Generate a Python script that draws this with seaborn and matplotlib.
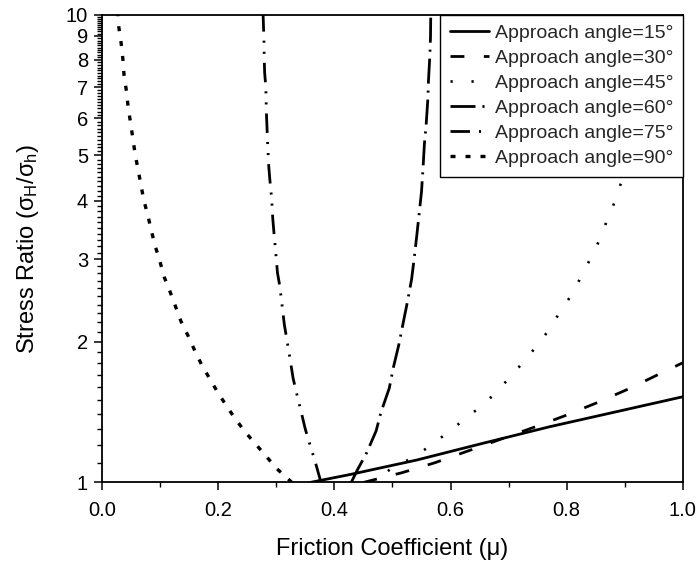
import matplotlib
matplotlib.use("Agg")
import matplotlib.pyplot as plt
import seaborn as sns

# ---- data ----
mu_15 = [0.358, 0.427, 0.542, 0.656, 0.771, 0.886, 1.0]
ratio_15 = [1.0, 1.04, 1.117, 1.213, 1.316, 1.417, 1.525]

mu_30 = [0.450, 0.466, 0.516, 0.573, 0.631, 0.686, 0.742, 0.797, 0.854, 0.909, 0.963, 1.0]
ratio_30 = [1.0, 1.012, 1.049, 1.102, 1.169, 1.237, 1.31, 1.389, 1.484, 1.59, 1.714, 1.803]

mu_45 = [0.462, 0.473, 0.501, 0.533, 0.563, 0.592, 0.619, 0.648, 0.674, 0.698, 0.722,
         0.745, 0.768, 0.787, 0.808, 0.824, 0.841, 0.857, 0.870, 0.884, 0.895,
         0.904, 0.912, 0.920, 0.927, 0.933, 0.939, 0.944, 0.948, 0.950]
ratio_45 = [1.0, 1.016, 1.078, 1.126, 1.193, 1.27, 1.349, 1.44, 1.538, 1.656, 1.789,
            1.935, 2.107, 2.299, 2.515, 2.739, 3.013, 3.309, 3.651, 4.015, 4.43,
            4.89, 5.40, 5.95, 6.57, 7.24, 8.0, 8.82, 9.73, 10.3]

mu_60 = [0.429, 0.439, 0.456, 0.472, 0.480, 0.4945, 0.502, 0.511, 0.519, 0.526, 0.533,
         0.5375, 0.542, 0.546, 0.550, 0.5525, 0.555, 0.558, 0.561, 0.562, 0.5645, 0.5655, 0.566]
ratio_60 = [1.0, 1.06, 1.16, 1.29, 1.41, 1.59, 1.77, 1.97, 2.21, 2.44, 2.72,
            3.02, 3.38, 3.76, 4.18, 4.67, 5.29, 5.81, 6.62, 7.22, 8.23, 8.97, 10.2]

mu_75 = [0.377, 0.367, 0.357, 0.350, 0.342, 0.334, 0.329, 0.323, 0.318, 0.314, 0.310,
         0.306, 0.302, 0.299, 0.296, 0.294, 0.292, 0.289, 0.287, 0.285, 0.284,
         0.283, 0.282, 0.280, 0.2793, 0.2788, 0.2776, 0.2772]
ratio_75 = [1.0, 1.108, 1.216, 1.30, 1.43, 1.57, 1.67, 1.86, 2.03, 2.17, 2.39,
            2.63, 2.81, 3.11, 3.42, 3.66, 4.05, 4.43, 4.75, 5.35, 5.76,
            6.17, 7.01, 7.51, 8.02, 8.82, 9.77, 10.2]

mu_90 = [0.327, 0.321, 0.301, 0.282, 0.264, 0.247, 0.229, 0.214, 0.199, 0.185, 0.172,
         0.160, 0.148, 0.136, 0.127, 0.117, 0.107, 0.100, 0.092, 0.085, 0.079,
         0.072, 0.067, 0.062, 0.057, 0.053, 0.049, 0.045, 0.042, 0.038, 0.036,
         0.033, 0.029, 0.027]
ratio_90 = [1.0, 1.016, 1.07, 1.14, 1.21, 1.28, 1.37, 1.46, 1.56, 1.67, 1.78,
            1.91, 2.06, 2.21, 2.37, 2.56, 2.75, 2.96, 3.19, 3.45, 3.72,
            4.01, 4.33, 4.67, 5.04, 5.45, 5.89, 6.35, 6.87, 7.42, 8.02,
            8.68, 9.39, 10.3]

labels = ["Approach angle=15°", "Approach angle=30°", "Approach angle=45°",
          "Approach angle=60°", "Approach angle=75°", "Approach angle=90°"]

y_major = [1, 2, 3, 4, 5, 6, 7, 8, 9, 10]
x_major = [0.0, 0.2, 0.4, 0.6, 0.8, 1.0]
x_minor = [0.1, 0.3, 0.5, 0.7, 0.9]

# ---- style ----
sns.set_style("ticks")
plt.rcParams["font.family"] = ["Liberation Sans", "DejaVu Sans"]
plt.rcParams["mathtext.default"] = "regular"
plt.rcParams["lines.scale_dashes"] = False

fig = plt.figure(figsize=(6.99, 5.63), dpi=100)
ax = fig.add_axes([0.1459, 0.143, 0.8311, 0.8312])

series = [
    (mu_15, ratio_15, 2.0, "-"),
    (mu_30, ratio_30, 2.0, (0, (10, 14))),
    (mu_45, ratio_45, 1.9, (0, (1.6, 13.5))),
    (mu_60, ratio_60, 2.0, (0, (18, 5, 1.5, 5))),
    (mu_75, ratio_75, 2.0, (0, (14, 6.5, 1.5, 6.5, 1.5, 6.5))),
    (mu_90, ratio_90, 2.4, (0, (3.6, 7.2))),
]
for (xs, ys, lw, ls), lab in zip(series, labels):
    sns.lineplot(x=xs, y=ys, ax=ax, color="black", linewidth=lw, linestyle=ls,
                 estimator=None, sort=False, label=lab)

ax.set_yscale("log")
ax.set_xlim(0, 1)
ax.set_ylim(1, 10)

ax.yaxis.set_major_locator(matplotlib.ticker.FixedLocator(y_major))
ax.yaxis.set_major_formatter(matplotlib.ticker.FixedFormatter([str(v) for v in y_major]))
y_minor = [i + 0.1 * j for i in range(1, 10) for j in range(1, 10)]
ax.yaxis.set_minor_locator(matplotlib.ticker.FixedLocator(y_minor))
ax.yaxis.set_minor_formatter(matplotlib.ticker.NullFormatter())
ax.xaxis.set_major_locator(matplotlib.ticker.FixedLocator(x_major))
ax.xaxis.set_major_formatter(matplotlib.ticker.FixedFormatter([f"{v:.1f}" for v in x_major]))
ax.xaxis.set_minor_locator(matplotlib.ticker.FixedLocator(x_minor))

ax.tick_params(which="major", direction="out", length=6, width=1.1, labelsize=14.5,
               color="black", labelcolor="black")
ax.tick_params(axis="x", which="major", pad=7)
ax.tick_params(axis="y", which="major", pad=4)
ax.tick_params(which="minor", direction="out", length=3.5, width=1.0, color="black")
ax.tick_params(top=False, right=False, which="both")

for sp in ax.spines.values():
    sp.set_visible(True)
    sp.set_color("black")
    sp.set_linewidth(1.3)

ax.set_xlabel("Friction Coefficient (μ)", fontsize=17, labelpad=13, color="black")
ax.set_ylabel("Stress Ratio (σ$_H$/σ$_h$)", fontsize=17, labelpad=18, color="black")

leg = ax.legend(loc="upper right", borderaxespad=0, frameon=True, fancybox=False,
                edgecolor="black", framealpha=1, fontsize=14, handlelength=2.0,
                handletextpad=0.3, labelspacing=0.38, borderpad=0.5)
leg.get_frame().set_linewidth(1.0)

fig.savefig("out.png", dpi=100, facecolor="white")
